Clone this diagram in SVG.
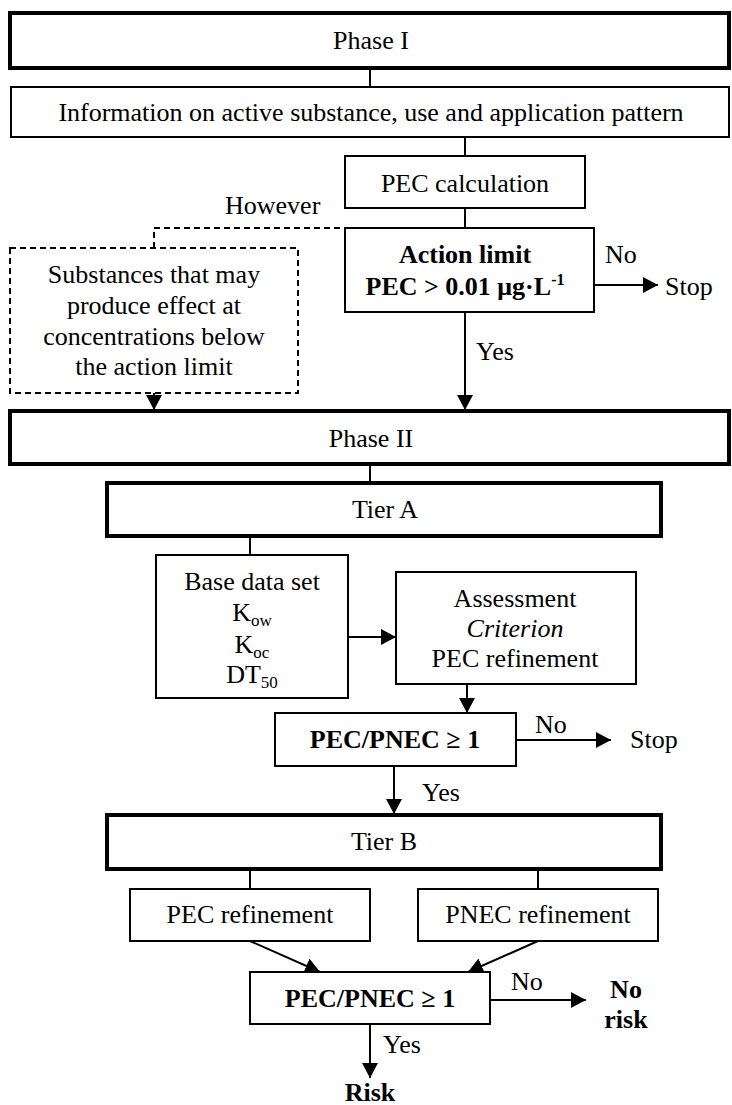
<svg xmlns="http://www.w3.org/2000/svg" width="732" height="1105" viewBox="0 0 732 1105">
<style>
text{font-family:"Liberation Serif","Times New Roman",serif;font-size:26px;fill:#000}
.c{text-anchor:middle}
.b{font-weight:bold}
.i{font-style:italic}
.box{fill:#fff;stroke:#000;stroke-width:2}
.thick{fill:#fff;stroke:#000;stroke-width:4}
.dash{fill:none;stroke:#000;stroke-width:2;stroke-dasharray:6,4}
.ln{fill:none;stroke:#000;stroke-width:2}
.sub{font-size:17px}
</style>
<defs>
<marker id="ah" markerUnits="userSpaceOnUse" markerWidth="16" markerHeight="17" refX="15" refY="8" orient="auto">
<path d="M0,0 L15,8 L0,16 z" fill="#000"/>
</marker>
</defs>
<rect width="732" height="1105" fill="#fff"/>

<g id="connectors">
<line class="ln" x1="370" y1="68" x2="370" y2="87"/>
<line class="ln" x1="465" y1="137" x2="465" y2="156"/>
<line class="ln" x1="465" y1="208" x2="465" y2="228"/>
<line class="ln" x1="465" y1="312" x2="465" y2="410" marker-end="url(#ah)"/>
<line class="ln" x1="594" y1="285" x2="658" y2="285" marker-end="url(#ah)"/>
<polyline class="dash" points="370,228 154,228 154,248"/>
<line class="ln" x1="154" y1="393" x2="154" y2="410" marker-end="url(#ah)"/>
<line class="ln" x1="370" y1="464" x2="370" y2="483"/>
<line class="ln" x1="250" y1="536" x2="250" y2="555"/>
<line class="ln" x1="348" y1="637" x2="396" y2="637" marker-end="url(#ah)"/>
<line class="ln" x1="467" y1="684" x2="467" y2="713" marker-end="url(#ah)"/>
<line class="ln" x1="516" y1="740" x2="611" y2="740" marker-end="url(#ah)"/>
<line class="ln" x1="394" y1="766" x2="394" y2="814" marker-end="url(#ah)"/>
<line class="ln" x1="250" y1="869" x2="250" y2="889"/>
<line class="ln" x1="538" y1="869" x2="538" y2="889"/>
<line class="ln" x1="250" y1="941" x2="320" y2="972" marker-end="url(#ah)"/>
<line class="ln" x1="538" y1="941" x2="468" y2="972" marker-end="url(#ah)"/>
<line class="ln" x1="490" y1="1000" x2="586" y2="1000" marker-end="url(#ah)"/>
<line class="ln" x1="370" y1="1024" x2="370" y2="1078" marker-end="url(#ah)"/>
<text x="605" y="263">No</text>
<text x="476" y="360">Yes</text>
<text x="535" y="733">No</text>
<text x="422" y="801">Yes</text>
<text x="511" y="990">No</text>
<text x="383" y="1053">Yes</text>
<text x="225" y="214">However</text>
</g>

<g id="phase1">
<rect class="thick" x="10" y="13" width="719" height="55"/>
<text class="c" x="371" y="49">Phase I</text>
</g>
<g id="info">
<rect class="box" x="11" y="87" width="718" height="50"/>
<text class="c" x="371" y="121">Information on active substance, use and application pattern</text>
</g>
<g id="pec-calc">
<rect class="box" x="345" y="156" width="240" height="52"/>
<text class="c" x="465" y="192">PEC calculation</text>
</g>
<g id="action-limit">
<rect class="box" x="345" y="228" width="249" height="84"/>
<text class="c b" x="465" y="263">Action limit</text>
<text class="c b" x="465" y="295">PEC &gt; 0.01 μg·L<tspan dy="-10" font-size="16">-1</tspan></text>
</g>
<g id="stop1">
<text x="665" y="295">Stop</text>
</g>
<g id="substances">
<rect class="dash" x="10" y="248" width="288" height="145"/>
<text class="c" x="154" y="283">Substances that may</text>
<text class="c" x="154" y="314">produce effect at</text>
<text class="c" x="154" y="345">concentrations below</text>
<text class="c" x="154" y="375">the action limit</text>
</g>
<g id="phase2">
<rect class="thick" x="10" y="411" width="719" height="53"/>
<text class="c" x="371" y="447">Phase II</text>
</g>
<g id="tierA">
<rect class="thick" x="107" y="483" width="554" height="53"/>
<text class="c" x="385" y="518">Tier A</text>
</g>
<g id="base-data">
<rect class="box" x="156" y="555" width="192" height="143"/>
<text class="c" x="252" y="590">Base data set</text>
<text class="c" x="252" y="621">K<tspan class="sub" dy="5">ow</tspan></text>
<text class="c" x="252" y="653">K<tspan class="sub" dy="5">oc</tspan></text>
<text class="c" x="252" y="683">DT<tspan class="sub" dy="5">50</tspan></text>
</g>
<g id="assessment">
<rect class="box" x="396" y="572" width="240" height="112"/>
<text class="c" x="515" y="607">Assessment</text>
<text class="c i" x="515" y="637">Criterion</text>
<text class="c" x="515" y="667">PEC refinement</text>
</g>
<g id="ratio1">
<rect class="box" x="275" y="713" width="241" height="53"/>
<text class="c b" x="395" y="748">PEC/PNEC ≥ 1</text>
</g>
<g id="stop2">
<text x="630" y="748">Stop</text>
</g>
<g id="tierB">
<rect class="thick" x="107" y="815" width="554" height="54"/>
<text class="c" x="384" y="850">Tier B</text>
</g>
<g id="pec-ref">
<rect class="box" x="130" y="889" width="240" height="52"/>
<text class="c" x="250" y="923">PEC refinement</text>
</g>
<g id="pnec-ref">
<rect class="box" x="418" y="889" width="240" height="52"/>
<text class="c" x="538" y="923">PNEC refinement</text>
</g>
<g id="ratio2">
<rect class="box" x="250" y="972" width="240" height="52"/>
<text class="c b" x="370" y="1007">PEC/PNEC ≥ 1</text>
</g>
<g id="no-risk">
<text class="c b" x="626" y="998">No</text>
<text class="c b" x="626" y="1028">risk</text>
</g>
<g id="risk">
<text class="c b" x="370" y="1101">Risk</text>
</g>
</svg>
